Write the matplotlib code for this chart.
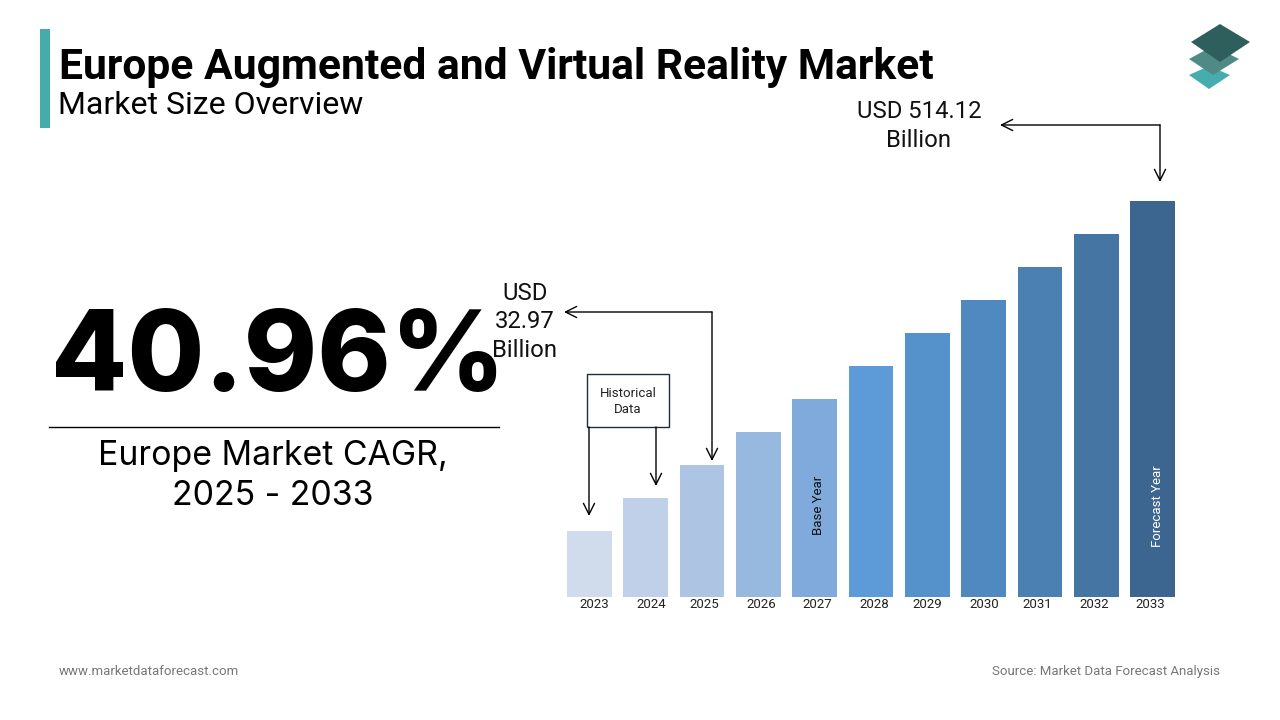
"""Europe AR/VR market size overview slide."""

import matplotlib.pyplot as plt
from matplotlib.patches import Polygon, Rectangle
from matplotlib.transforms import ScaledTranslation

YEARS = ["2023", "2024", "2025", "2026", "2027", "2028", "2029", "2030", "2031", "2032", "2033"]
# bar heights, the bars are schematic and have no value axis
BAR_HEIGHTS = [66, 99, 132, 165, 198, 231, 264, 297, 330, 363, 396]
BAR_COLORS = ["#D0DCEC", "#BFD0E8", "#ADC5E3", "#98B9DF", "#7FAADB", "#5D9BD8",
              "#5592CB", "#5089BF", "#4A80B2", "#4475A3", "#3C6690"]
LABEL_SHIFT = [5, 6, 2, 3, 3, 3, 0, 1, -3, -2, -2]

FIRST_VALUE = "USD\n32.97\nBillion"
LAST_VALUE = "USD 514.12\nBillion"

plt.rcParams["font.family"] = ["Roboto", "DejaVu Sans"]

fig = plt.figure(figsize=(12.8, 7.2), dpi=100, facecolor="white")

# overlay in pixel coordinates for the slide furniture
page = fig.add_axes([0, 0, 1, 1])
page.set_xlim(0, 1280)
page.set_ylim(720, 0)
page.axis("off")

# bar chart placed on the slide
chart = fig.add_axes([567 / 1280, 1 - 597 / 720, 608 / 1280, 396 / 720])
chart.patch.set_alpha(0)
positions = list(range(len(YEARS)))
chart.bar(positions, BAR_HEIGHTS, width=0.79, color=BAR_COLORS)
chart.set_xlim(-0.395, len(YEARS) - 1 + 0.395)
chart.set_ylim(0, 396)
chart.set_yticks([])
chart.set_xticks(positions, YEARS, fontsize=9.5, color="#222222")
chart.tick_params(axis="x", length=0, pad=1)
for label, shift in zip(chart.get_xticklabels(), LABEL_SHIFT):
    label.set_transform(label.get_transform() + ScaledTranslation(shift / 100, 0, fig.dpi_scale_trans))
for spine in chart.spines.values():
    spine.set_visible(False)

chart.text(4.07, 92, "Base Year", rotation=90, ha="center", va="center", fontsize=9.5, color="#111111")
chart.text(10.08, 91, "Forecast Year", rotation=90, ha="center", va="center", fontsize=9.5, color="white")

# header
page.add_patch(Rectangle((40, 29), 10, 99, color="#45ABAB", lw=0))
page.text(59, 68, "Europe Augmented and Virtual Reality Market", fontsize=30.7, fontweight="bold",
          color="black", va="center", ha="left")
page.text(58, 106, "Market Size Overview", fontsize=23, color="black", va="center", ha="left")

# logo
page.add_patch(Polygon([(1189, 75), (1209, 66), (1230, 75), (1209, 89)], color="#45ADAD", lw=0))
page.add_patch(Polygon([(1189, 59), (1213, 46), (1239, 59), (1213, 75)], color="#4F8A87", lw=0))
page.add_patch(Polygon([(1191, 42), (1220, 24), (1250, 42), (1220, 62)], color="#2F5F5C", lw=0))

# CAGR block
page.text(278, 361, "40.96%", fontsize=80, family="Inter", fontweight=800, color="black",
          ha="center", va="center")
page.plot([49, 499], [427, 427], color="black", lw=1)
page.text(273, 476, "Europe Market CAGR,\n2025 - 2033", fontsize=24.4, family="Inter", color="black",
          ha="center", va="center", linespacing=1.32)

# value callouts
page.text(525, 322, FIRST_VALUE, fontsize=17.2, color="#111111", ha="center", va="center", linespacing=1.33)
page.text(919, 126, LAST_VALUE, fontsize=17.2, color="#111111", ha="center", va="center", linespacing=1.33)

arrow = dict(arrowstyle="->", color="black", lw=1, mutation_scale=20, shrinkA=0, shrinkB=0)
page.annotate("", xy=(564, 312), xytext=(712, 312), arrowprops=arrow)
page.annotate("", xy=(712, 461), xytext=(712, 312), arrowprops=arrow)
page.annotate("", xy=(1000, 125), xytext=(1160, 125), arrowprops=arrow)
page.annotate("", xy=(1160, 182), xytext=(1160, 125), arrowprops=arrow)

# historical data box
page.add_patch(Rectangle((587, 374), 82, 53, fc="white", ec="#1F2D3D", lw=1))
page.text(628, 401.5, "Historical\nData", fontsize=9.5, color="#222222", ha="center", va="center", linespacing=1.35)
page.annotate("", xy=(589, 516), xytext=(589, 427), arrowprops=arrow)
page.annotate("", xy=(656, 486), xytext=(656, 427), arrowprops=arrow)

# footer
page.text(59, 671.5, "www.marketdataforecast.com", fontsize=9.5, color="#777777", ha="left", va="center")
page.text(1220, 671.5, "Source: Market Data Forecast Analysis", fontsize=9.5, color="#777777", ha="right", va="center")

fig.savefig("out.png", dpi=100)
plt.close(fig)
